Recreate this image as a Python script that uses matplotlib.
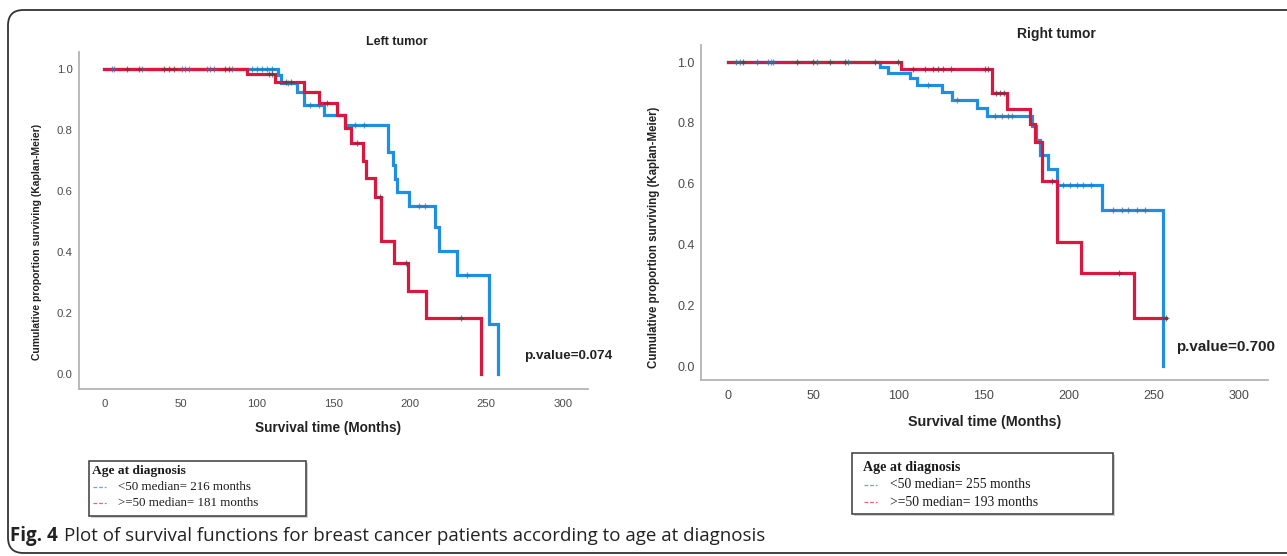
import matplotlib
matplotlib.use("Agg")
import matplotlib.pyplot as plt
import numpy as np
from matplotlib.lines import Line2D
from matplotlib.patches import FancyBboxPatch, Rectangle

# ---- data ----
# left tumor, age < 50
left_young_t = [0, 113.5, 115.7, 126.4, 130.4, 143.5, 157.7, 186.0, 188.9, 190.5, 191.5, 199.6, 216.6, 218.8, 230.8, 251.5, 257.4]
left_young_s = [1.0, 0.98, 0.955, 0.925, 0.882, 0.849, 0.816, 0.729, 0.685, 0.64, 0.598, 0.551, 0.483, 0.404, 0.325, 0.164, 0.0]
left_young_cens = [5.0, 6.0, 24.6, 50.8, 53.0, 55.1, 67.1, 69.3, 71.5, 83.5, 96.6, 99.9, 103.2, 106.4, 109.7,
                   120.5, 134.9, 140.3, 164.0, 170.0, 205.7, 210.0, 237.7]
# left tumor, age >= 50
left_old_t = [0, 93.3, 111.4, 130.4, 140.2, 152.2, 157.7, 161.5, 169.0, 171.6, 176.9, 181.0, 189.8, 198.5, 210.5, 246.5]
left_old_s = [1.0, 0.984, 0.957, 0.926, 0.888, 0.849, 0.806, 0.759, 0.70, 0.642, 0.581, 0.437, 0.365, 0.273, 0.183, 0.0]
left_old_cens = [14.8, 22.4, 38.8, 42.0, 45.3, 79.1, 81.3, 107.5, 109.7, 118.9, 122.1, 146.0, 165.3, 180.2, 197.6, 233.4]

# right tumor, age < 50
right_young_t = [0, 89.2, 94.1, 106.9, 110.8, 125.5, 131.3, 146.4, 152.2, 178.3, 181.0, 183.5, 188.0, 192.9, 219.5, 255.4]
right_young_s = [1.0, 0.985, 0.964, 0.947, 0.925, 0.90, 0.876, 0.848, 0.823, 0.79, 0.745, 0.695, 0.648, 0.596, 0.514, 0.0]
right_young_cens = [5.1, 7.1, 16.9, 23.7, 25.1, 26.6, 52.1, 70.7, 117.6, 134.3, 156.7, 160.7, 164.6, 166.5,
                    196.8, 200.8, 205.0, 208.6, 213.4, 226.2, 231.1, 235.0, 240.0, 245.0]
# right tumor, age >= 50
right_old_t = [0, 101.7, 154.8, 163.6, 177.3, 180.2, 184.1, 192.9, 207.4, 238.4, 257.0]
right_old_s = [1.0, 0.978, 0.898, 0.845, 0.797, 0.737, 0.607, 0.409, 0.307, 0.158, 0.158]
right_old_cens = [9.0, 40.4, 50.1, 59.9, 68.7, 86.3, 100.0, 108.8, 115.7, 120.5, 123.4, 126.3, 131.2, 151.0, 152.9,
                  157.6, 159.6, 161.9, 190.0, 229.5, 257.0]

legend_title = "Age at diagnosis"
left_labels = ["<50 median= 216 months", ">=50 median= 181 months"]
right_labels = ["<50 median= 255 months", ">=50 median= 193 months"]
p_left = "p.value=0.074"
p_right = "p.value=0.700"

BLUE = "#1e8fe3"
RED = "#d9173f"
W, H = 1287, 556

fig = plt.figure(figsize=(W / 100, H / 100), dpi=100)
fig.patch.set_facecolor("white")


def px(x, y):
    return x / W, 1 - y / H


def km(ax, t, s, cens, color, mcolor):
    t = np.asarray(t)
    s = np.asarray(s)
    ax.step(t, s, where="post", color=color, lw=2.3, solid_joinstyle="miter", zorder=3)
    c = np.asarray(cens)
    idx = np.searchsorted(t, c, side="right") - 1
    ax.plot(c, s[idx], ls="none", marker="+", ms=5, mew=0.9, color=mcolor, alpha=0.7, zorder=4)


def style(ax, xlim, ylim, fs):
    ax.set_xlim(*xlim)
    ax.set_ylim(*ylim)
    ax.set_xticks(np.arange(0, 301, 50))
    ax.set_yticks(np.arange(0, 1.01, 0.2))
    ax.set_yticklabels([f"{v:.1f}" for v in np.arange(0, 1.01, 0.2)])
    for sp in ["top", "right"]:
        ax.spines[sp].set_visible(False)
    for sp in ["left", "bottom"]:
        ax.spines[sp].set_color("#b4b4b4")
        ax.spines[sp].set_linewidth(1.3)
    ax.tick_params(length=0, labelsize=fs, labelcolor="#4a4a4a")
    ax.tick_params(axis="x", pad=7)
    ax.tick_params(axis="y", pad=4.5)
    for lab in ax.get_xticklabels() + ax.get_yticklabels():
        lab.set_family("Liberation Sans")


# left panel
axL = fig.add_axes([79 / W, 1 - 389 / H, 509 / W, 337 / H])
km(axL, left_young_t, left_young_s, left_young_cens, BLUE, "#3a6fa8")
km(axL, left_old_t, left_old_s, left_old_cens, RED, "#444444")
style(axL, (-16.6, 316.6), (-0.049, 1.0557), 8.2)

# right panel
axR = fig.add_axes([701 / W, 1 - 380 / H, 567 / W, 335 / H])
km(axR, right_young_t, right_young_s, right_young_cens, BLUE, "#3a6fa8")
km(axR, right_old_t, right_old_s, right_old_cens, RED, "#444444")
style(axR, (-15.7, 317.0), (-0.046, 1.056), 9.0)

bold = dict(family="Liberation Sans", weight="bold", color="#222222")
fig.text(*px(397, 42), "Left tumor", ha="center", va="center", fontsize=9, **bold)
fig.text(*px(1056, 34), "Right tumor", ha="center", va="center", fontsize=10, **bold)
fig.text(*px(37, 242), "Cumulative proportion surviving (Kaplan-Meier)", rotation=90,
         ha="center", va="center", fontsize=7.5, **bold)
fig.text(*px(654, 237), "Cumulative proportion surviving (Kaplan-Meier)", rotation=90,
         ha="center", va="center", fontsize=8.3, **bold)
fig.text(*px(328, 428), "Survival time (Months)", ha="center", va="center", fontsize=9.8, **bold)
fig.text(*px(985, 422), "Survival time (Months)", ha="center", va="center", fontsize=10.3, **bold)
fig.text(*px(524, 356), p_left, ha="left", va="center", fontsize=9.7, **bold)
fig.text(*px(1176, 347), p_right, ha="left", va="center", fontsize=10.9, **bold)


def legend_box(x0, y0, x1, y1, title_y, row_y, hx, tx, fs, labels):
    shadow = Rectangle(px(x0 + 2, y1 + 2), (x1 - x0) / W, (y1 - y0) / H,
                       transform=fig.transFigure, facecolor="#d0d0d0", edgecolor="none", zorder=1)
    box = Rectangle(px(x0, y1), (x1 - x0) / W, (y1 - y0) / H, transform=fig.transFigure,
                    facecolor="white", edgecolor="#3a3a3a", linewidth=1.1, zorder=2)
    fig.add_artist(shadow)
    fig.add_artist(box)
    fig.text(*px(hx - 1, title_y), legend_title, ha="left", va="center", fontsize=fs + 0.3,
             family="Liberation Serif", weight="bold", color="#1a1a1a", zorder=3)
    for yy, lab, col in zip(row_y, labels, ["#6aa3e8", "#f06070"]):
        fig.add_artist(Line2D([hx / W, (hx + 13) / W], [1 - yy / H, 1 - yy / H],
                              transform=fig.transFigure, color=col, lw=0.9,
                              ls=(0, (3, 1.5)), zorder=3))
        fig.text(*px(tx, yy), lab, ha="left", va="center", fontsize=fs,
                 family="Liberation Serif", color="#1a1a1a", zorder=3)


legend_box(89, 461, 306, 516, 471, [487, 503], 93, 118, 9.4, left_labels)
legend_box(852, 453, 1113, 514, 467, [485, 502], 864, 890, 9.8, right_labels)

# outer rounded frame and caption
frame = FancyBboxPatch((8 / W, 1 - 553 / H), 1.2, (553 - 10) / H,
                       boxstyle="round,pad=0,rounding_size=0.012",
                       transform=fig.transFigure, fill=False, edgecolor="#333333",
                       linewidth=1.3, mutation_aspect=W / H, clip_on=False)
fig.add_artist(frame)

cap1 = fig.text(*px(10, 536), "Fig. 4", ha="left", va="center", fontsize=13.5,
                family="Open Sans", weight="bold", color="#222222")
fig.canvas.draw()
ext = cap1.get_window_extent(fig.canvas.get_renderer())
fig.text((ext.x1 + 6) / W, 1 - 536 / H,
         "Plot of survival functions for breast cancer patients according to age at diagnosis",
         ha="left", va="center", fontsize=13.5, family="Open Sans", color="#222222")

fig.savefig("out.png", dpi=100)
